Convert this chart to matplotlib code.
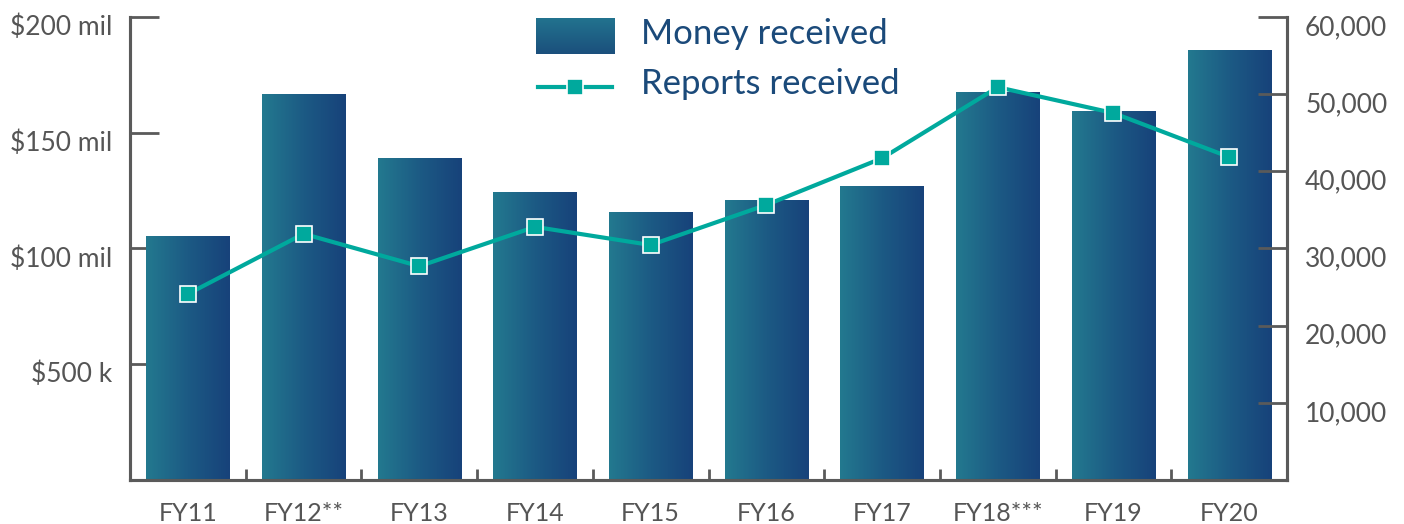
import numpy as np
import matplotlib
matplotlib.use('Agg')
import matplotlib.pyplot as plt
from matplotlib.colors import LinearSegmentedColormap
from matplotlib.lines import Line2D
import matplotlib.transforms as mtransforms

plt.rcParams['font.family'] = ['Lato', 'DejaVu Sans']

# data
years = ['FY11', 'FY12**', 'FY13', 'FY14', 'FY15', 'FY16', 'FY17', 'FY18***', 'FY19', 'FY20']
money_mil = [105.4, 166.7, 139.1, 124.4, 115.8, 121.0, 127.0, 167.6, 159.4, 185.7]
reports = [24100, 31900, 27700, 32800, 30450, 35650, 41700, 50900, 47550, 41850]
money_ticks = [50, 100, 150, 200]
money_labels = ['$500 k', '$100 mil', '$150 mil', '$200 mil']
report_ticks = [10000, 20000, 30000, 40000, 50000, 60000]

axis_gray = '#5a5a5a'
teal = '#00a99d'
text_blue = '#1b4a7a'
grad = LinearSegmentedColormap.from_list('g', ['#23798f', '#1c5a84', '#17427a'])

fig = plt.figure(figsize=(14.04, 5.24), dpi=100)
ax = fig.add_axes([0.0926, 0.084, 0.8241, 0.8836])
ax2 = ax.twinx()

x = np.arange(len(years))
bars = ax.bar(x, money_mil, width=0.72, color='none', edgecolor='none', zorder=2)
g = np.linspace(0, 1, 256).reshape(1, -1)
for b in bars:
    x0, y0 = b.get_x(), b.get_y()
    im = ax.imshow(g, cmap=grad, aspect='auto', zorder=2,
                   extent=[x0, x0 + b.get_width(), y0, y0 + b.get_height()])
    im.set_clip_path(b)

ax.set_xlim(-0.5, len(years) - 0.5)
ax.set_ylim(0, 200)
ax2.set_ylim(0, 60000)

ax2.plot(x, reports, color=teal, lw=3, marker='s', markersize=12,
         markerfacecolor=teal, markeredgecolor='white', markeredgewidth=1.2, zorder=3)

for a in (ax, ax2):
    a.spines['top'].set_visible(False)
    for s in a.spines.values():
        s.set_color(axis_gray)
        s.set_linewidth(2.2)

ax.set_yticks(money_ticks)
ax.set_yticklabels(money_labels)
ax.tick_params(axis='y', direction='in', length=21, width=2, color=axis_gray,
               labelsize=19, labelcolor='#555555', pad=13)
ax2.set_yticks(report_ticks)
ax2.set_yticklabels([f'{v:,}' for v in report_ticks])
ax2.tick_params(axis='y', direction='in', length=21, width=2, color=axis_gray,
                labelsize=19, labelcolor='#555555', pad=13)

ax.set_xticks(x)
ax.set_xticklabels(years)
ax.set_xticks(np.arange(-0.5, len(years)), minor=True)
ax.tick_params(axis='x', which='major', length=0, labelsize=18, labelcolor='#555555', pad=16)
ax.tick_params(axis='x', which='minor', direction='in', length=8, width=2, color=axis_gray)

# labels sit a bit below their ticks
off = mtransforms.ScaledTranslation(0, -8 / 100, fig.dpi_scale_trans)
for lab in ax.get_yticklabels() + ax2.get_yticklabels():
    lab.set_transform(lab.get_transform() + off)

# legend
lax = fig.add_axes([0.382, 0.897, 0.056, 0.069])
lax.imshow(np.linspace(0, 1, 64).reshape(-1, 1), cmap=LinearSegmentedColormap.from_list('v', ['#22748f', '#1b4f7c']),
           aspect='auto', extent=[0, 1, 0, 1])
lax.axis('off')
fig.text(0.4565, 0.935, 'Money received', fontsize=25, color=text_blue, va='center')
fig.add_artist(Line2D([0.383, 0.436], [0.834, 0.834], color=teal, lw=3, transform=fig.transFigure))
fig.add_artist(Line2D([0.4095], [0.834], marker='s', markersize=12, color=teal,
                      markeredgecolor='white', markeredgewidth=1.2, transform=fig.transFigure))
fig.text(0.4565, 0.839, 'Reports received', fontsize=25, color=text_blue, va='center')

fig.savefig('out.png', dpi=100)
